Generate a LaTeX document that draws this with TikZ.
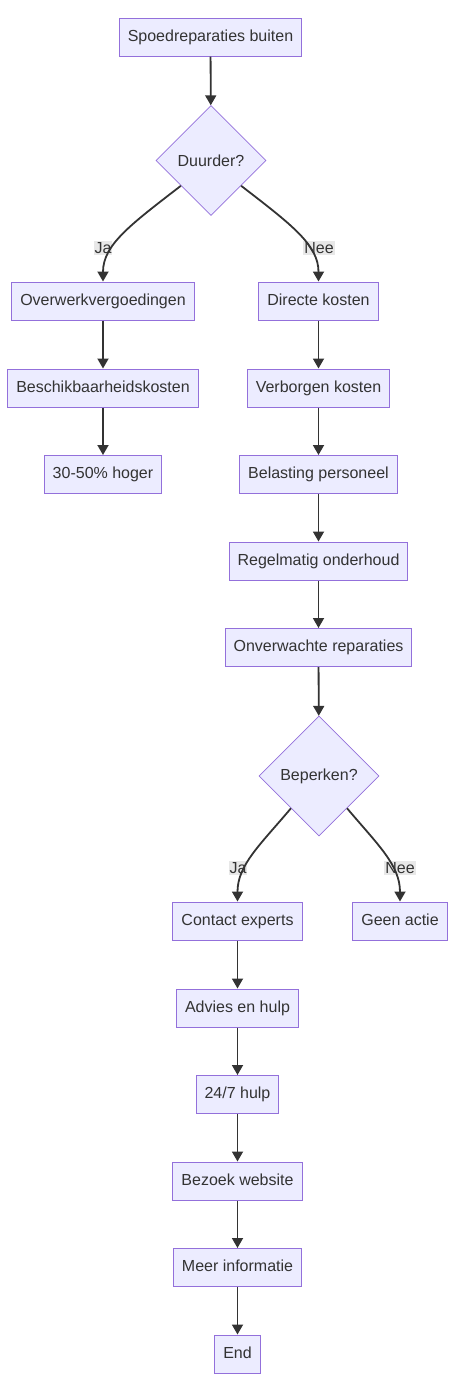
\documentclass[tikz,border=0pt]{standalone}
\usepackage{fontspec}
\setmainfont{Liberation Sans}
\usetikzlibrary{shapes.geometric, arrows.meta}
\definecolor{nodefill}{HTML}{ECECFF}
\definecolor{nodeline}{HTML}{9370DB}
\definecolor{inktext}{HTML}{333333}
\definecolor{labelbg}{HTML}{E8E8E8}
\tikzset{
	procbox/.style={draw=nodeline, fill=nodefill, line width=1pt, inner xsep=8.5pt, minimum height=38pt, text height=11.5pt, text depth=3pt, font=\fontsize{16}{19}\selectfont\color{inktext}}
}
\tikzset{
	decision/.style={diamond, draw=nodeline, fill=nodefill, line width=0.8pt, inner sep=0pt, font=\fontsize{16}{19}\selectfont\color{inktext}}
}
\tikzset{
	edgelabel/.style={fill=labelbg, inner sep=1pt, font=\fontsize{16}{19}\selectfont\color{inktext}}
}
\tikzset{
	flowline/.style={->, draw=inktext, line width=1.8pt}
}

\begin{document}
\begin{tikzpicture}[x=1pt, y=-1pt, >={Triangle[length=10pt,width=11pt]}]
      \useasboundingbox (0,0) rectangle (464,1393);
      % start and first question
      \node[procbox] (start) at (210.5,37) {Spoedreparaties buiten};
      \node[decision, minimum size=110pt] (dur) at (211,160.5) {Duurder?};
      % left branch
      \node[procbox] (over) at (103,301) {Overwerkvergoedingen};
      \node[procbox] (besch) at (103,388) {Beschikbaarheidskosten};
      \node[procbox] (hoger) at (103,474.5) {30-50\% hoger};
      % right branch
      \node[procbox] (dir) at (318.5,301) {Directe kosten};
      \node[procbox] (verb) at (318.5,388) {Verborgen kosten};
      \node[procbox] (bel) at (318.5,474.5) {Belasting personeel};
      \node[procbox] (reg) at (318.5,561) {Regelmatig onderhoud};
      \node[procbox] (onv) at (318.5,647.5) {Onverwachte reparaties};
      % second question
      \node[decision, minimum size=120pt] (bep) at (319,776) {Beperken?};
      \node[procbox] (cont) at (237.5,921) {Contact experts};
      \node[procbox] (geen) at (400,921) {Geen actie};
      \node[procbox] (adv) at (237.5,1008) {Advies en hulp};
      \node[procbox] (hulp) at (237.5,1094.5) {24/7 hulp};
      \node[procbox] (bez) at (237.5,1181) {Bezoek website};
      \node[procbox] (meer) at (237.5,1267.5) {Meer informatie};
      \node[procbox] (end) at (237.5,1354) {End};
      % edge labels
      \node[edgelabel] (ja1) at (103,248) {Ja};
      \node[edgelabel] (nee1) at (319,248) {Nee};
      \node[edgelabel] (ja2) at (238,868) {Ja};
      \node[edgelabel] (nee2) at (400,868) {Nee};
      % straight connectors
      \draw[flowline] (start) -- (dur);
      \draw[flowline] (over) -- (besch);
      \draw[flowline] (besch) -- (hoger);
      \draw[flowline] (dir) -- (verb);
      \draw[flowline] (verb) -- (bel);
      \draw[flowline] (bel) -- (reg);
      \draw[flowline] (reg) -- (onv);
      \draw[flowline] (onv) -- (bep);
      \draw[flowline] (cont) -- (adv);
      \draw[flowline] (adv) -- (hulp);
      \draw[flowline] (hulp) -- (bez);
      \draw[flowline] (bez) -- (meer);
      \draw[flowline] (meer) -- (end);
      % curved connectors out of the diamonds
      \draw[flowline] (dur.220) .. controls (130,225) and (103,245) .. (over.north);
      \draw[flowline] (dur.320) .. controls (292,225) and (318.5,245) .. (dir.north);
      \draw[flowline] (bep.229) .. controls (260,845) and (237.5,865) .. (cont.north);
      \draw[flowline] (bep.311) .. controls (378,845) and (400,865) .. (geen.north);
    \end{tikzpicture}
\end{document}
